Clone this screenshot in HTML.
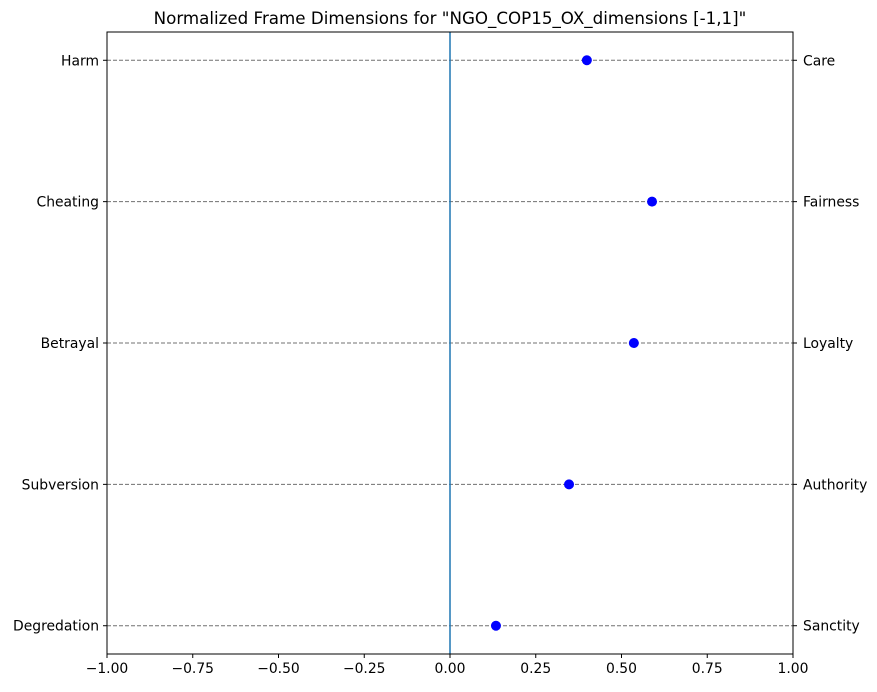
<!DOCTYPE html>
<html><head><meta charset="utf-8"><style>
body{margin:0;background:#fff;font-family:"Liberation Sans","DejaVu Sans",sans-serif;}
svg text{font-family:"DejaVu Sans","Liberation Sans",sans-serif;font-size:13.9px;fill:#000}
</style></head><body>
<svg id="chart" width="877" height="687" xmlns="http://www.w3.org/2000/svg">
<text x="450" y="24" text-anchor="middle" style="font-size:16.7px">Normalized Frame Dimensions for "NGO_COP15_OX_dimensions [-1,1]"</text>
<g id="grid"></g>
<g id="marks"></g>
<rect x="107" y="32" width="686" height="622" fill="none" stroke="#000" stroke-width="1"/>
<g id="axes"></g>
</svg>
<script>
const leftLabels=["Harm","Cheating","Betrayal","Subversion","Degredation"];
const rightLabels=["Care","Fairness","Loyalty","Authority","Sanctity"];
const values=[0.399,0.589,0.536,0.347,0.134];
const xTicks=[-1,-0.75,-0.5,-0.25,0,0.25,0.5,0.75,1];
const xTickLabels=["\u22121.00","\u22120.75","\u22120.50","\u22120.25","0.00","0.25","0.50","0.75","1.00"];
const L=107,R=793,T=32,B=654;
const xs=v=>L+(v+1)/2*(R-L);
const ys=i=>T+(i+0.2)/4.4*(B-T);
const NS="http://www.w3.org/2000/svg";
function mk(tag,attrs,parent,text){const e=document.createElementNS(NS,tag);for(const k in attrs)e.setAttribute(k,attrs[k]);if(text!==undefined)e.textContent=text;document.getElementById(parent).appendChild(e);return e;}
leftLabels.forEach((lab,i)=>{
  const y=ys(i);
  const g=mk("line",{x1:L,x2:R,y1:y,y2:y,stroke:"#707070","stroke-dasharray":"4,2","stroke-width":1},"grid");
  
  
  const t1=mk("line",{x1:L-4,x2:L,y1:y,y2:y,stroke:"#000"},"axes");
  
  
  const l1=mk("text",{x:L-8,y:y+5,"text-anchor":"end"},"axes",lab);
  
  
  const t2=mk("line",{x1:R,x2:R+4,y1:y,y2:y,stroke:"#000"},"axes");
  
  
  const l2=mk("text",{x:R+10,y:y+5,"text-anchor":"start"},"axes",rightLabels[i]);
  
  
});
const z=mk("line",{x1:xs(0),x2:xs(0),y1:T,y2:B,stroke:"#1f77b4","stroke-width":1.5},"grid");


values.forEach((v,i)=>{
  const c=mk("circle",{cx:xs(v),cy:ys(i),r:5,fill:"#0000ff"},"marks");
  
  
});
xTicks.forEach((v,i)=>{
  const x=xs(v);
  const t=mk("line",{x1:x,x2:x,y1:B,y2:B+4,stroke:"#000"},"axes");
  
  
  const l=mk("text",{x:x,y:B+19,"text-anchor":"middle"},"axes",xTickLabels[i]);
  
  
});
</script>
</body></html>
